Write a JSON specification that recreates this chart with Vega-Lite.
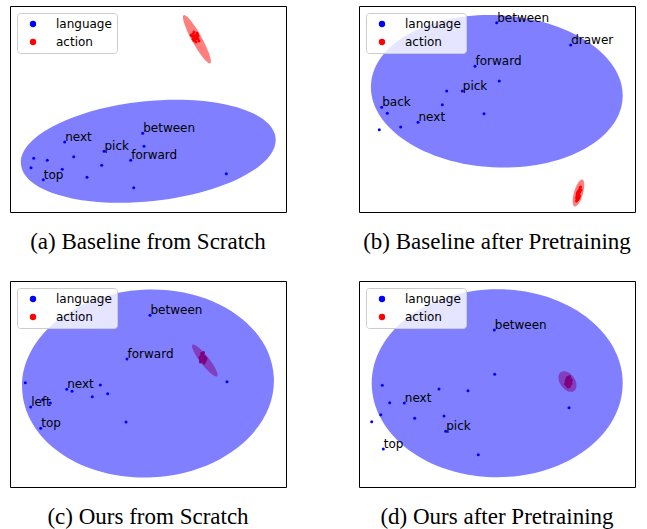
{
  "$schema": "https://vega.github.io/schema/vega-lite/v6.json",
  "padding": {"left": 9, "top": 5, "right": 0, "bottom": 0},
  "config": {
    "view": {"stroke": "#000000", "strokeWidth": 1},
    "title": {"font": "Liberation Serif", "fontSize": 23, "fontWeight": "normal", "color": "#000000", "orient": "bottom", "offset": 19, "anchor": "middle"}
  },
  "datasets": {
    "pts": [
      {"p": "a", "kind": "language", "x": 54.7, "y": 136, "label": "next"},
      {"p": "a", "kind": "language", "x": 94, "y": 145.3, "label": "pick"},
      {"p": "a", "kind": "language", "x": 132.7, "y": 127.3, "label": "between"},
      {"p": "a", "kind": "language", "x": 134, "y": 140.3},
      {"p": "a", "kind": "language", "x": 120.7, "y": 154.3, "label": "forward"},
      {"p": "a", "kind": "language", "x": 63.7, "y": 150.7},
      {"p": "a", "kind": "language", "x": 23.7, "y": 152.3},
      {"p": "a", "kind": "language", "x": 37.3, "y": 154.3},
      {"p": "a", "kind": "language", "x": 21, "y": 161.7},
      {"p": "a", "kind": "language", "x": 52.3, "y": 163.3},
      {"p": "a", "kind": "language", "x": 91.7, "y": 159.3},
      {"p": "a", "kind": "language", "x": 33.3, "y": 173.7, "label": "top"},
      {"p": "a", "kind": "language", "x": 77, "y": 171.3},
      {"p": "a", "kind": "language", "x": 123.7, "y": 181.7},
      {"p": "a", "kind": "language", "x": 216.3, "y": 167.7},
      {"p": "a", "kind": "action", "x": 185, "y": 30},
      {"p": "a", "kind": "action", "x": 183, "y": 28},
      {"p": "a", "kind": "action", "x": 187, "y": 31},
      {"p": "a", "kind": "action", "x": 184, "y": 32},
      {"p": "a", "kind": "action", "x": 186, "y": 29},
      {"p": "a", "kind": "action", "x": 182, "y": 30},
      {"p": "a", "kind": "action", "x": 188, "y": 33},
      {"p": "a", "kind": "action", "x": 185, "y": 34},
      {"p": "a", "kind": "action", "x": 183, "y": 33},
      {"p": "a", "kind": "action", "x": 187, "y": 27},
      {"p": "a", "kind": "action", "x": 189, "y": 35},
      {"p": "a", "kind": "action", "x": 184, "y": 26},
      {"p": "a", "kind": "action", "x": 186, "y": 36},
      {"p": "a", "kind": "action", "x": 181, "y": 29},
      {"p": "a", "kind": "action", "x": 188, "y": 30},
      {"p": "a", "kind": "action", "x": 185, "y": 31.5},
      {"p": "a", "kind": "action", "x": 183.5, "y": 30.5},
      {"p": "a", "kind": "action", "x": 186.5, "y": 32.5},
      {"p": "a", "kind": "action", "x": 184, "y": 34.5},
      {"p": "a", "kind": "action", "x": 187.5, "y": 28.5},

      {"p": "b", "kind": "language", "x": 137.7, "y": 16.7, "label": "between"},
      {"p": "b", "kind": "language", "x": 211.7, "y": 39, "label": "drawer"},
      {"p": "b", "kind": "language", "x": 116, "y": 60.3, "label": "forward"},
      {"p": "b", "kind": "language", "x": 140.3, "y": 75},
      {"p": "b", "kind": "language", "x": 103.3, "y": 85, "label": "pick"},
      {"p": "b", "kind": "language", "x": 87.7, "y": 85},
      {"p": "b", "kind": "language", "x": 22.7, "y": 101.3, "label": "back"},
      {"p": "b", "kind": "language", "x": 28.3, "y": 107.3},
      {"p": "b", "kind": "language", "x": 83.3, "y": 98.7},
      {"p": "b", "kind": "language", "x": 125, "y": 107.7},
      {"p": "b", "kind": "language", "x": 59, "y": 116.3, "label": "next"},
      {"p": "b", "kind": "language", "x": 41.7, "y": 121},
      {"p": "b", "kind": "language", "x": 20.3, "y": 123.7},
      {"p": "b", "kind": "action", "x": 219.5, "y": 188},
      {"p": "b", "kind": "action", "x": 220.5, "y": 184},
      {"p": "b", "kind": "action", "x": 218.5, "y": 191},
      {"p": "b", "kind": "action", "x": 221, "y": 182},
      {"p": "b", "kind": "action", "x": 218, "y": 193},
      {"p": "b", "kind": "action", "x": 220, "y": 186},
      {"p": "b", "kind": "action", "x": 219, "y": 190},
      {"p": "b", "kind": "action", "x": 217.5, "y": 195},
      {"p": "b", "kind": "action", "x": 221.5, "y": 181},
      {"p": "b", "kind": "action", "x": 220, "y": 188.5},
      {"p": "b", "kind": "action", "x": 218.5, "y": 187},
      {"p": "b", "kind": "action", "x": 221, "y": 186},
      {"p": "b", "kind": "action", "x": 217.5, "y": 191.5},
      {"p": "b", "kind": "action", "x": 219, "y": 193.5},
      {"p": "b", "kind": "action", "x": 220.5, "y": 190},
      {"p": "b", "kind": "action", "x": 222, "y": 184},
      {"p": "b", "kind": "action", "x": 218, "y": 189},
      {"p": "b", "kind": "action", "x": 219.5, "y": 185},
      {"p": "b", "kind": "action", "x": 220, "y": 192},
      {"p": "b", "kind": "action", "x": 218.8, "y": 186.2},

      {"p": "c", "kind": "language", "x": 140, "y": 34.3, "label": "between"},
      {"p": "c", "kind": "language", "x": 117, "y": 78, "label": "forward"},
      {"p": "c", "kind": "language", "x": 15.3, "y": 101.7},
      {"p": "c", "kind": "language", "x": 56.7, "y": 108.3, "label": "next"},
      {"p": "c", "kind": "language", "x": 62, "y": 110.3},
      {"p": "c", "kind": "language", "x": 90.3, "y": 104},
      {"p": "c", "kind": "language", "x": 97.7, "y": 112.7},
      {"p": "c", "kind": "language", "x": 82.3, "y": 115.7},
      {"p": "c", "kind": "language", "x": 20.7, "y": 126, "label": "left"},
      {"p": "c", "kind": "language", "x": 40.3, "y": 122},
      {"p": "c", "kind": "language", "x": 32.7, "y": 118.7},
      {"p": "c", "kind": "language", "x": 30.7, "y": 147.3, "label": "top"},
      {"p": "c", "kind": "language", "x": 116, "y": 141},
      {"p": "c", "kind": "language", "x": 217, "y": 100.7},
      {"p": "c", "kind": "action", "x": 192.7, "y": 77},
      {"p": "c", "kind": "action", "x": 191, "y": 75},
      {"p": "c", "kind": "action", "x": 194, "y": 78},
      {"p": "c", "kind": "action", "x": 193, "y": 73},
      {"p": "c", "kind": "action", "x": 190.5, "y": 78.5},
      {"p": "c", "kind": "action", "x": 195, "y": 76},
      {"p": "c", "kind": "action", "x": 192, "y": 80},
      {"p": "c", "kind": "action", "x": 194.5, "y": 80.5},
      {"p": "c", "kind": "action", "x": 191.5, "y": 72.5},
      {"p": "c", "kind": "action", "x": 193.5, "y": 75.5},
      {"p": "c", "kind": "action", "x": 190, "y": 76.5},
      {"p": "c", "kind": "action", "x": 195.5, "y": 79},
      {"p": "c", "kind": "action", "x": 192.5, "y": 74},
      {"p": "c", "kind": "action", "x": 191, "y": 79.5},
      {"p": "c", "kind": "action", "x": 194, "y": 82},
      {"p": "c", "kind": "action", "x": 193, "y": 78.5},
      {"p": "c", "kind": "action", "x": 192, "y": 76},
      {"p": "c", "kind": "action", "x": 196, "y": 77.5},
      {"p": "c", "kind": "action", "x": 190.5, "y": 81},
      {"p": "c", "kind": "action", "x": 193.5, "y": 71.5},

      {"p": "d", "kind": "language", "x": 135.3, "y": 49, "label": "between"},
      {"p": "d", "kind": "language", "x": 135.7, "y": 93.3},
      {"p": "d", "kind": "language", "x": 23.3, "y": 104.3},
      {"p": "d", "kind": "language", "x": 80, "y": 108},
      {"p": "d", "kind": "language", "x": 109, "y": 109.7},
      {"p": "d", "kind": "language", "x": 45.3, "y": 122, "label": "next"},
      {"p": "d", "kind": "language", "x": 30.7, "y": 121.7},
      {"p": "d", "kind": "language", "x": 21.7, "y": 133.7},
      {"p": "d", "kind": "language", "x": 12.7, "y": 140.7},
      {"p": "d", "kind": "language", "x": 55.7, "y": 137.3},
      {"p": "d", "kind": "language", "x": 85, "y": 135},
      {"p": "d", "kind": "language", "x": 86.7, "y": 150.3, "label": "pick"},
      {"p": "d", "kind": "language", "x": 24.3, "y": 168, "label": "top"},
      {"p": "d", "kind": "language", "x": 119.3, "y": 173.7},
      {"p": "d", "kind": "language", "x": 210, "y": 126.7},
      {"p": "d", "kind": "action", "x": 209.5, "y": 101},
      {"p": "d", "kind": "action", "x": 208, "y": 99},
      {"p": "d", "kind": "action", "x": 211, "y": 100},
      {"p": "d", "kind": "action", "x": 210, "y": 97},
      {"p": "d", "kind": "action", "x": 207.5, "y": 102},
      {"p": "d", "kind": "action", "x": 212, "y": 102.5},
      {"p": "d", "kind": "action", "x": 209, "y": 104},
      {"p": "d", "kind": "action", "x": 210.5, "y": 105.5},
      {"p": "d", "kind": "action", "x": 208.5, "y": 96.5},
      {"p": "d", "kind": "action", "x": 211.5, "y": 98},
      {"p": "d", "kind": "action", "x": 207, "y": 100},
      {"p": "d", "kind": "action", "x": 210, "y": 102},
      {"p": "d", "kind": "action", "x": 208, "y": 104.5},
      {"p": "d", "kind": "action", "x": 212.5, "y": 99.5},
      {"p": "d", "kind": "action", "x": 209.5, "y": 98.5},
      {"p": "d", "kind": "action", "x": 206.5, "y": 103},
      {"p": "d", "kind": "action", "x": 211, "y": 103.5},
      {"p": "d", "kind": "action", "x": 209, "y": 106},
      {"p": "d", "kind": "action", "x": 210.5, "y": 95.5},
      {"p": "d", "kind": "action", "x": 207.8, "y": 97.8}
    ],
    "ell": [
      {"p": "a", "kind": "action", "x": 187, "y": 33.3},
      {"p": "a", "kind": "language", "x": 138.3, "y": 145.3},
      {"p": "b", "kind": "action", "x": 219.5, "y": 187},
      {"p": "b", "kind": "language", "x": 137.8, "y": 85.3},
      {"p": "c", "kind": "action", "x": 194.8, "y": 79.5},
      {"p": "c", "kind": "language", "x": 138, "y": 102.5},
      {"p": "d", "kind": "action", "x": 208.5, "y": 100.5},
      {"p": "d", "kind": "language", "x": 138.2, "y": 102.2}
    ]
  },
  "resolve": {"scale": {"color": "independent", "x": "independent", "y": "independent"}, "legend": {"color": "independent"}},
  "spacing": 25,
  "vconcat": [
    {
      "spacing": 71,
      "resolve": {"scale": {"color": "independent", "x": "independent", "y": "independent"}, "legend": {"color": "independent"}},
      "hconcat": [
        {
          "width": 276, "height": 206,
          "title": {"text": "(a) Baseline from Scratch"},
          "layer": [
            {"data": {"name": "pts"}, "transform": [{"filter": "datum.p === 'a'"}],
             "mark": {"type": "point", "filled": true, "shape": "circle", "size": 9, "opacity": 1},
             "encoding": {
               "x": {"field": "x", "type": "quantitative", "axis": null, "scale": {"domain": [0, 276], "nice": false, "zero": false}},
               "y": {"field": "y", "type": "quantitative", "axis": null, "scale": {"domain": [0, 206], "reverse": true, "nice": false, "zero": false}},
               "color": {"field": "kind", "type": "nominal", "scale": {"domain": ["language", "action"], "range": ["#0000ff", "#ff0000"]},
                 "legend": {"orient": "none", "legendX": 7, "legendY": 7, "title": null, "symbolType": "circle", "symbolSize": 40, "symbolOpacity": 1, "labelFont": "DejaVu Sans", "labelFontSize": 12, "labelColor": "#000000", "labelOffset": 17, "symbolOffset": 5, "padding": 5, "rowPadding": 6, "fillColor": "rgba(255,255,255,0.8)", "strokeColor": "#cccccc", "cornerRadius": 3}}
             }},
            {"data": {"name": "ell"}, "transform": [{"filter": "datum.p === 'a' && datum.kind === 'action'"}],
             "mark": {"type": "point", "filled": true, "shape": "M -27.5 0 A 27.5 5 0 1 0 27.5 0 A 27.5 5 0 1 0 -27.5 0 Z", "size": 4, "angle": 61, "color": "#ff0000", "opacity": 0.5},
             "encoding": {
               "x": {"field": "x", "type": "quantitative"},
               "y": {"field": "y", "type": "quantitative"}
             }},
            {"data": {"name": "ell"}, "transform": [{"filter": "datum.p === 'a' && datum.kind === 'language'"}],
             "mark": {"type": "point", "filled": true, "shape": "M -128 0 A 128 50 0 1 0 128 0 A 128 50 0 1 0 -128 0 Z", "size": 4, "angle": -6, "color": "#0000ff", "opacity": 0.5},
             "encoding": {
               "x": {"field": "x", "type": "quantitative"},
               "y": {"field": "y", "type": "quantitative"}
             }},
            {"data": {"name": "pts"}, "transform": [{"filter": "datum.p === 'a' && datum.label"}],
             "mark": {"type": "text", "font": "DejaVu Sans", "fontSize": 12, "color": "#000000", "align": "left", "baseline": "alphabetic", "dx": 0.5, "dy": -1},
             "encoding": {
               "x": {"field": "x", "type": "quantitative"},
               "y": {"field": "y", "type": "quantitative"},
               "text": {"field": "label"}
             }}
          ]
        },
        {
          "width": 276, "height": 206,
          "title": {"text": "(b) Baseline after Pretraining"},
          "layer": [
            {"data": {"name": "pts"}, "transform": [{"filter": "datum.p === 'b'"}],
             "mark": {"type": "point", "filled": true, "shape": "circle", "size": 9, "opacity": 1},
             "encoding": {
               "x": {"field": "x", "type": "quantitative", "axis": null, "scale": {"domain": [0, 276], "nice": false, "zero": false}},
               "y": {"field": "y", "type": "quantitative", "axis": null, "scale": {"domain": [0, 206], "reverse": true, "nice": false, "zero": false}},
               "color": {"field": "kind", "type": "nominal", "scale": {"domain": ["language", "action"], "range": ["#0000ff", "#ff0000"]},
                 "legend": {"orient": "none", "legendX": 7, "legendY": 7, "title": null, "symbolType": "circle", "symbolSize": 40, "symbolOpacity": 1, "labelFont": "DejaVu Sans", "labelFontSize": 12, "labelColor": "#000000", "labelOffset": 17, "symbolOffset": 5, "padding": 5, "rowPadding": 6, "fillColor": "rgba(255,255,255,0.8)", "strokeColor": "#cccccc", "cornerRadius": 3}}
             }},
            {"data": {"name": "ell"}, "transform": [{"filter": "datum.p === 'b' && datum.kind === 'action'"}],
             "mark": {"type": "point", "filled": true, "shape": "M -14 0 A 14 4.5 0 1 0 14 0 A 14 4.5 0 1 0 -14 0 Z", "size": 4, "angle": -74, "color": "#ff0000", "opacity": 0.5},
             "encoding": {
               "x": {"field": "x", "type": "quantitative"},
               "y": {"field": "y", "type": "quantitative"}
             }},
            {"data": {"name": "ell"}, "transform": [{"filter": "datum.p === 'b' && datum.kind === 'language'"}],
             "mark": {"type": "point", "filled": true, "shape": "M -126 0 A 126 76 0 1 0 126 0 A 126 76 0 1 0 -126 0 Z", "size": 4, "angle": 3, "color": "#0000ff", "opacity": 0.5},
             "encoding": {
               "x": {"field": "x", "type": "quantitative"},
               "y": {"field": "y", "type": "quantitative"}
             }},
            {"data": {"name": "pts"}, "transform": [{"filter": "datum.p === 'b' && datum.label"}],
             "mark": {"type": "text", "font": "DejaVu Sans", "fontSize": 12, "color": "#000000", "align": "left", "baseline": "alphabetic", "dx": 0.5, "dy": -1},
             "encoding": {
               "x": {"field": "x", "type": "quantitative"},
               "y": {"field": "y", "type": "quantitative"},
               "text": {"field": "label"}
             }}
          ]
        }
      ]
    },
    {
      "spacing": 71,
      "resolve": {"scale": {"color": "independent", "x": "independent", "y": "independent"}, "legend": {"color": "independent"}},
      "hconcat": [
        {
          "width": 276, "height": 206,
          "title": {"text": "(c) Ours from Scratch"},
          "layer": [
            {"data": {"name": "pts"}, "transform": [{"filter": "datum.p === 'c'"}],
             "mark": {"type": "point", "filled": true, "shape": "circle", "size": 9, "opacity": 1},
             "encoding": {
               "x": {"field": "x", "type": "quantitative", "axis": null, "scale": {"domain": [0, 276], "nice": false, "zero": false}},
               "y": {"field": "y", "type": "quantitative", "axis": null, "scale": {"domain": [0, 206], "reverse": true, "nice": false, "zero": false}},
               "color": {"field": "kind", "type": "nominal", "scale": {"domain": ["language", "action"], "range": ["#0000ff", "#ff0000"]},
                 "legend": {"orient": "none", "legendX": 7, "legendY": 7, "title": null, "symbolType": "circle", "symbolSize": 40, "symbolOpacity": 1, "labelFont": "DejaVu Sans", "labelFontSize": 12, "labelColor": "#000000", "labelOffset": 17, "symbolOffset": 5, "padding": 5, "rowPadding": 6, "fillColor": "rgba(255,255,255,0.8)", "strokeColor": "#cccccc", "cornerRadius": 3}}
             }},
            {"data": {"name": "ell"}, "transform": [{"filter": "datum.p === 'c' && datum.kind === 'action'"}],
             "mark": {"type": "point", "filled": true, "shape": "M -20 0 A 20 4.5 0 1 0 20 0 A 20 4.5 0 1 0 -20 0 Z", "size": 4, "angle": 52, "color": "#ff0000", "opacity": 0.5},
             "encoding": {
               "x": {"field": "x", "type": "quantitative"},
               "y": {"field": "y", "type": "quantitative"}
             }},
            {"data": {"name": "ell"}, "transform": [{"filter": "datum.p === 'c' && datum.kind === 'language'"}],
             "mark": {"type": "point", "filled": true, "shape": "M -126 0 A 126 94 0 1 0 126 0 A 126 94 0 1 0 -126 0 Z", "size": 4, "angle": -3, "color": "#0000ff", "opacity": 0.5},
             "encoding": {
               "x": {"field": "x", "type": "quantitative"},
               "y": {"field": "y", "type": "quantitative"}
             }},
            {"data": {"name": "pts"}, "transform": [{"filter": "datum.p === 'c' && datum.label"}],
             "mark": {"type": "text", "font": "DejaVu Sans", "fontSize": 12, "color": "#000000", "align": "left", "baseline": "alphabetic", "dx": 0.5, "dy": -1},
             "encoding": {
               "x": {"field": "x", "type": "quantitative"},
               "y": {"field": "y", "type": "quantitative"},
               "text": {"field": "label"}
             }}
          ]
        },
        {
          "width": 276, "height": 206,
          "title": {"text": "(d) Ours after Pretraining"},
          "layer": [
            {"data": {"name": "pts"}, "transform": [{"filter": "datum.p === 'd'"}],
             "mark": {"type": "point", "filled": true, "shape": "circle", "size": 9, "opacity": 1},
             "encoding": {
               "x": {"field": "x", "type": "quantitative", "axis": null, "scale": {"domain": [0, 276], "nice": false, "zero": false}},
               "y": {"field": "y", "type": "quantitative", "axis": null, "scale": {"domain": [0, 206], "reverse": true, "nice": false, "zero": false}},
               "color": {"field": "kind", "type": "nominal", "scale": {"domain": ["language", "action"], "range": ["#0000ff", "#ff0000"]},
                 "legend": {"orient": "none", "legendX": 7, "legendY": 7, "title": null, "symbolType": "circle", "symbolSize": 40, "symbolOpacity": 1, "labelFont": "DejaVu Sans", "labelFontSize": 12, "labelColor": "#000000", "labelOffset": 17, "symbolOffset": 5, "padding": 5, "rowPadding": 6, "fillColor": "rgba(255,255,255,0.8)", "strokeColor": "#cccccc", "cornerRadius": 3}}
             }},
            {"data": {"name": "ell"}, "transform": [{"filter": "datum.p === 'd' && datum.kind === 'action'"}],
             "mark": {"type": "point", "filled": true, "shape": "M -11.5 0 A 11.5 7.5 0 1 0 11.5 0 A 11.5 7.5 0 1 0 -11.5 0 Z", "size": 4, "angle": 55, "color": "#ff0000", "opacity": 0.5},
             "encoding": {
               "x": {"field": "x", "type": "quantitative"},
               "y": {"field": "y", "type": "quantitative"}
             }},
            {"data": {"name": "ell"}, "transform": [{"filter": "datum.p === 'd' && datum.kind === 'language'"}],
             "mark": {"type": "point", "filled": true, "shape": "M -125.5 0 A 125.5 94 0 1 0 125.5 0 A 125.5 94 0 1 0 -125.5 0 Z", "size": 4, "angle": 0, "color": "#0000ff", "opacity": 0.5},
             "encoding": {
               "x": {"field": "x", "type": "quantitative"},
               "y": {"field": "y", "type": "quantitative"}
             }},
            {"data": {"name": "pts"}, "transform": [{"filter": "datum.p === 'd' && datum.label"}],
             "mark": {"type": "text", "font": "DejaVu Sans", "fontSize": 12, "color": "#000000", "align": "left", "baseline": "alphabetic", "dx": 0.5, "dy": -1},
             "encoding": {
               "x": {"field": "x", "type": "quantitative"},
               "y": {"field": "y", "type": "quantitative"},
               "text": {"field": "label"}
             }}
          ]
        }
      ]
    }
  ]
}
